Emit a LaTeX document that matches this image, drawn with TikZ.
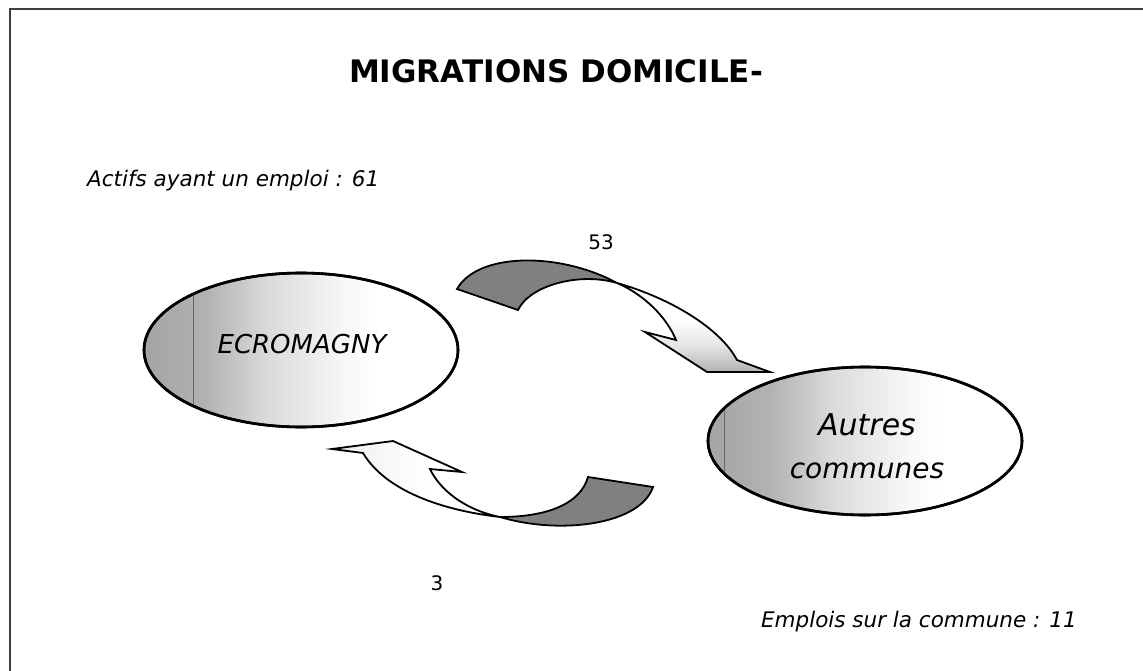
\documentclass[tikz,border=0pt]{standalone}
\usepackage{fontspec}
\setmainfont{DejaVu Sans}
\usetikzlibrary{shapes.geometric}
\pgfdeclarehorizontalshading{ellshade}{100bp}{color(0bp)=(black!36); color(25bp)=(black!36); color(35bp)=(black!30); color(45bp)=(black!14); color(57bp)=(black!3); color(62bp)=(white); color(100bp)=(white)}
\pgfdeclareverticalshading{headshadeA}{100bp}{color(0bp)=(black!30); color(25bp)=(black!30); color(40bp)=(black!10); color(55bp)=(white); color(100bp)=(white)}
\pgfdeclarehorizontalshading{headshadeB}{100bp}{color(0bp)=(black!8); color(25bp)=(black!8); color(40bp)=(black!3); color(55bp)=(white); color(100bp)=(white)}
\tikzset{
  frameline/.style={line width=2.8pt, draw=black!75},
  place/.style={ellipse, draw=black, line width=2.6pt, shading=ellshade, minimum width=314pt, inner sep=0pt},
  splitline/.style={draw=black!60, line width=0.8pt},
  ribbon/.style={draw=black, line width=1.8pt, line join=miter},
  tailfill/.style={fill=black!50},
  italictext/.style={font=\itshape\fontsize{21.5}{26}\selectfont, inner sep=0pt},
  countlabel/.style={font=\fontsize{20}{24}\selectfont, inner sep=0pt},
  placelabel/.style={font=\itshape, inner sep=0pt, align=center},
}
\begin{document}
\begin{tikzpicture}[x=1pt,y=-1pt]
\useasboundingbox (0,0) rectangle (1143,671);
% frame
\coordinate (fTL) at (10,9);
\coordinate (fTR) at (1143,9);
\coordinate (fBL) at (10,671);
\draw[frameline] (fTR) -- (fTL) -- (fBL);

% title
\node[anchor=base, inner sep=0pt, font=\bfseries\fontsize{31}{36}\selectfont] (title) at (556,83) {MIGRATIONS DOMICILE-};

% side texts
\node[italictext, anchor=base west] (actifs) at (87,187) {Actifs ayant un emploi : 61};
\node[italictext, anchor=base east] (emplois) at (1077,627) {Emplois sur la commune : 11};

% places
\node[place, minimum height=154pt] (ecro) at (301,350) {};
\draw[splitline] (193,295) -- (193,405);
\draw[black, line width=2.6pt] (ecro.center) ellipse [x radius=157pt, y radius=77pt];
\node[placelabel, anchor=base, font=\itshape\fontsize{26}{30}\selectfont] (ecrotxt) at (302,353) {ECROMAGNY};

\node[place, minimum height=148pt] (autres) at (865,441) {};
\draw[splitline] (724,409) -- (724,473);
\draw[black, line width=2.6pt] (autres.center) ellipse [x radius=157pt, y radius=74pt];
\node[placelabel, anchor=base, font=\itshape\fontsize{30}{34}\selectfont] (autrestxt) at (867,435) {Autres};
\node[placelabel, anchor=base, font=\itshape\fontsize{28}{32}\selectfont] (communestxt) at (867,478) {communes};

% top curved arrow (53)
\coordinate (aT1) at (457,289);
\coordinate (aX) at (617,283);
\coordinate (aT2) at (518,310);
\coordinate (aO) at (737,360);
\coordinate (aTip) at (770,372);
\coordinate (aB1) at (707,372);
\coordinate (aBarb) at (645,332);
\coordinate (aN) at (676,340);
\fill[tailfill] (aT1) .. controls (478,252) and (560,252) .. (aX)
   .. controls (580,272) and (530,285) .. (aT2) -- cycle;
\shade[shading=headshadeA] (aX) .. controls (670,298) and (720,328) .. (aO) -- (aTip) -- (aB1) -- (aBarb) -- (aN)
   .. controls (667,318) and (645,295) .. (aX) -- cycle;
\draw[ribbon] (aT1) .. controls (478,252) and (560,252) .. (aX)
   .. controls (670,298) and (720,328) .. (aO) -- (aTip) -- (aB1) -- (aBarb) -- (aN)
   .. controls (667,318) and (645,295) .. (aX)
   .. controls (580,272) and (530,285) .. (aT2) -- cycle;
\node[countlabel] (n53) at (601,242) {53};

% bottom curved arrow (3)
\coordinate (bT1) at (588,477);
\coordinate (bT2) at (653,487);
\coordinate (bX) at (500,517);
\coordinate (bO) at (363,453);
\coordinate (bTip) at (332,449);
\coordinate (bH) at (393,441);
\coordinate (bBarb) at (462,472);
\coordinate (bN) at (430,469);
\fill[tailfill] (bT1) -- (bT2) .. controls (640,525) and (560,535) .. (bX)
   .. controls (545,517) and (580,505) .. (bT1) -- cycle;
\shade[shading=headshadeB] (bX) .. controls (440,510) and (385,490) .. (bO) -- (bTip) -- (bH) -- (bBarb) -- (bN)
   .. controls (440,490) and (465,510) .. (bX) -- cycle;
\draw[ribbon] (bT1) -- (bT2) .. controls (640,525) and (560,535) .. (bX)
   .. controls (440,510) and (385,490) .. (bO) -- (bTip) -- (bH) -- (bBarb) -- (bN)
   .. controls (440,490) and (465,510) .. (bX)
   .. controls (545,517) and (580,505) .. (bT1) -- cycle;
\node[countlabel] (n3) at (437,583) {3};
\end{tikzpicture}
\end{document}
